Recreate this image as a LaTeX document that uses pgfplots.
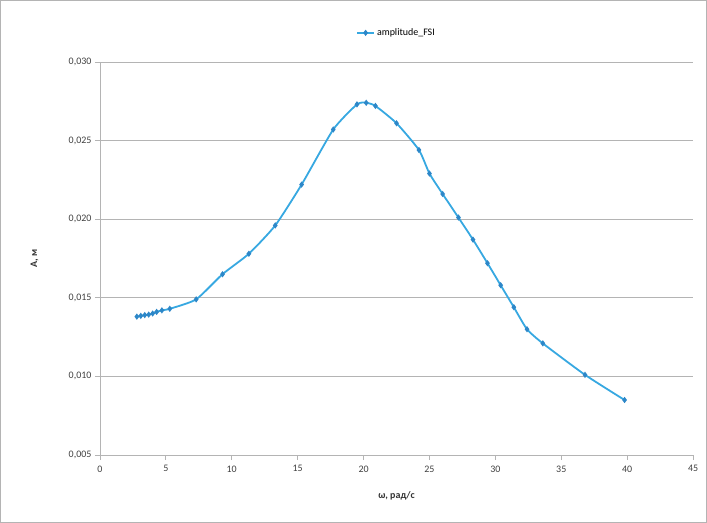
\documentclass[border=0pt]{standalone}
\usepackage{pgfplots}
\pgfplotsset{compat=1.18}
\usepackage{fontspec}
\setmainfont{Carlito}
\definecolor{ser}{RGB}{55,168,225}
\definecolor{mk}{RGB}{45,135,200}
\definecolor{gridc}{RGB}{180,180,180}
\begin{document}
\begin{tikzpicture}[x=1bp,y=1bp]
\draw[gridc,line width=0.8bp] (0.5,0.5) rectangle (706.5,522.5);
\begin{axis}[
  at={(100bp,68bp)}, anchor=south west,
  scale only axis, width=593bp, height=393bp,
  xmin=0, xmax=45, ymin=0.005, ymax=0.030,
  xtick={0,5,...,45},
  ytick={0.005,0.010,0.015,0.020,0.025,0.030},
  axis x line*=bottom, axis y line*=left,
  axis line style={gridc, line width=0.8bp, -},
  tick style={gridc, line width=0.8bp},
  major tick length=5bp,
  xtick pos=bottom, ytick pos=left,
  tick align=outside,
  ymajorgrids, grid style={gridc, line width=0.8bp},
  font=\fontsize{10}{12}\selectfont,
  tick label style={text=black!75},
  /pgf/number format/assume math mode=true,
  yticklabel style={/pgf/number format/.cd, fixed, fixed zerofill, precision=3, use comma},
  scaled y ticks=false,
  xticklabel style={yshift=-2bp},
  xlabel={\bfseries ω, рад/с},
  ylabel={\bfseries A, м},
  xlabel style={at={(axis description cs:0.5,-0.104)}, anchor=center, text=black!80},
  ylabel style={at={(axis description cs:-0.11,0.5)}, anchor=center, text=black!80},
  legend style={at={(0.5,1.074)}, anchor=center, draw=none, fill=none, font=\fontsize{10}{12}\selectfont},
  legend cell align=left,
  clip=false,
]
\addplot[ser, line width=1.8bp, smooth, tension=0.35, mark=diamond*, mark size=1.7bp, mark options={fill=mk, draw=mk}] coordinates {
(2.8,0.0138) (3.1,0.01385) (3.4,0.0139) (3.7,0.01393) (4.0,0.0140) (4.3,0.0141) (4.7,0.0142) (5.3,0.0143)
(7.3,0.0149) (9.3,0.0165) (11.3,0.0178) (13.3,0.0196) (15.3,0.0222) (17.7,0.0257)
(19.5,0.0273) (20.2,0.0274) (20.9,0.0272) (22.5,0.0261) (24.2,0.0244) (25.0,0.0229)
(26.0,0.0216) (27.2,0.0201) (28.3,0.0187) (29.4,0.0172) (30.4,0.0158) (31.4,0.0144)
(32.4,0.0130) (33.6,0.0121) (36.8,0.0101) (39.8,0.0085)
};
\addlegendentry{amplitude\_FSI}
\end{axis}
\end{tikzpicture}
\end{document}
